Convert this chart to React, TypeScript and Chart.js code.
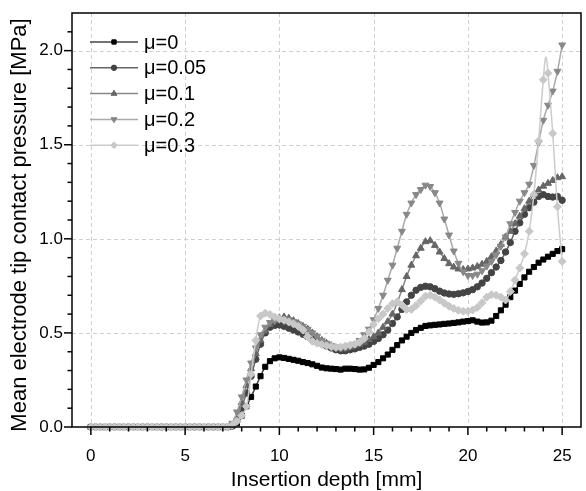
import { useEffect, useRef } from "react";
import { Chart, registerables } from "chart.js";

Chart.register(...registerables);

// Insertion depth [mm]
const depth = [
  0, 0.25, 0.5, 0.75, 1, 1.25, 1.5, 1.75, 2, 2.25,
  2.5, 2.75, 3, 3.25, 3.5, 3.75, 4, 4.25, 4.5, 4.75,
  5, 5.25, 5.5, 5.75, 6, 6.25, 6.5, 6.75, 7, 7.25,
  7.5, 7.75, 8, 8.25, 8.5, 8.75, 9, 9.25, 9.5, 9.75,
  10, 10.25, 10.5, 10.75, 11, 11.25, 11.5, 11.75, 12, 12.25,
  12.5, 12.75, 13, 13.25, 13.5, 13.75, 14, 14.25, 14.5, 14.75,
  15, 15.25, 15.5, 15.75, 16, 16.25, 16.5, 16.75, 17, 17.25,
  17.5, 17.75, 18, 18.25, 18.5, 18.75, 19, 19.25, 19.5, 19.75,
  20, 20.25, 20.5, 20.75, 21, 21.25, 21.5, 21.75, 22, 22.25,
  22.5, 22.75, 23, 23.25, 23.5, 23.75, 24, 24.25, 24.5, 24.75,
  25,
];

const zeros30 = [
  0, 0, 0, 0, 0, 0, 0, 0, 0, 0,
  0, 0, 0, 0, 0, 0, 0, 0, 0, 0,
  0, 0, 0, 0, 0, 0, 0, 0, 0, 0,
];

const mu0 = [
  ...zeros30,
  0.005, 0.02, 0.06, 0.11, 0.16, 0.215, 0.27, 0.32, 0.35, 0.365,
  0.37, 0.367, 0.362, 0.357, 0.352, 0.345, 0.34, 0.333, 0.325, 0.316,
  0.312, 0.31, 0.308, 0.305, 0.31, 0.31, 0.308, 0.305, 0.306, 0.315,
  0.33, 0.345, 0.365, 0.385, 0.41, 0.435, 0.46, 0.48, 0.5, 0.515,
  0.527, 0.537, 0.54, 0.543, 0.545, 0.548, 0.55, 0.553, 0.556, 0.56,
  0.563, 0.567, 0.56, 0.555, 0.556, 0.565, 0.59, 0.62, 0.65, 0.69,
  0.725, 0.76, 0.795, 0.825, 0.85, 0.873, 0.89, 0.905, 0.92, 0.935,
  0.945,
];

const mu005 = [
  ...zeros30,
  0.005, 0.03, 0.1, 0.18, 0.27, 0.36, 0.44, 0.5, 0.53, 0.54,
  0.542, 0.535, 0.525, 0.515, 0.505, 0.493, 0.48, 0.467, 0.455, 0.443,
  0.43, 0.42, 0.41, 0.405, 0.405, 0.41, 0.415, 0.423, 0.43, 0.44,
  0.455, 0.47, 0.49, 0.515, 0.55, 0.585, 0.625, 0.665, 0.7, 0.727,
  0.742, 0.748, 0.745, 0.735, 0.722, 0.712, 0.707, 0.705, 0.708, 0.713,
  0.72, 0.73, 0.745, 0.765, 0.79, 0.82, 0.85, 0.885, 0.93, 0.98,
  1.04, 1.085, 1.13, 1.165, 1.195, 1.225, 1.235, 1.225, 1.222, 1.225,
  1.205,
];

const mu01 = [
  ...zeros30,
  0.01, 0.05, 0.13, 0.22, 0.31, 0.39, 0.46, 0.51, 0.545, 0.565,
  0.58, 0.585, 0.578, 0.565, 0.55, 0.535, 0.52, 0.5, 0.48, 0.46,
  0.445, 0.432, 0.42, 0.415, 0.418, 0.425, 0.432, 0.44, 0.45, 0.465,
  0.48, 0.5, 0.53, 0.56, 0.6, 0.66, 0.73, 0.8, 0.86, 0.91,
  0.95, 0.985, 0.99, 0.965, 0.93, 0.895, 0.868, 0.85, 0.84, 0.837,
  0.84, 0.845, 0.853, 0.865, 0.88, 0.905, 0.935, 0.97, 1.01, 1.04,
  1.08, 1.12, 1.16, 1.2, 1.235, 1.26, 1.28, 1.295, 1.31, 1.325,
  1.33,
];

const mu02 = [
  ...zeros30,
  0.02, 0.08, 0.16, 0.25, 0.34, 0.42, 0.49, 0.53, 0.555, 0.565,
  0.572, 0.575, 0.57, 0.56, 0.548, 0.535, 0.52, 0.5, 0.48, 0.46,
  0.445, 0.432, 0.425, 0.42, 0.423, 0.43, 0.44, 0.46, 0.49, 0.52,
  0.57, 0.63, 0.7, 0.78, 0.86, 0.95, 1.04, 1.13, 1.19, 1.235,
  1.262, 1.285, 1.278, 1.245, 1.19, 1.105, 1.02, 0.935, 0.87, 0.825,
  0.805, 0.805, 0.812, 0.83, 0.855, 0.88, 0.915, 0.96, 1.01, 1.08,
  1.14, 1.2, 1.245, 1.29, 1.39, 1.51, 1.63, 1.71, 1.785, 1.89,
  2.03,
];

const mu03 = [
  ...zeros30,
  0.01, 0.03, 0.06, 0.11, 0.28, 0.46, 0.59, 0.605, 0.598, 0.585,
  0.575, 0.567, 0.558, 0.548, 0.535, 0.515, 0.48, 0.455, 0.445, 0.438,
  0.432, 0.427, 0.423, 0.425, 0.43, 0.435, 0.44, 0.45, 0.47, 0.505,
  0.545, 0.575, 0.6, 0.63, 0.655, 0.665, 0.648, 0.625, 0.625, 0.645,
  0.67, 0.695, 0.7, 0.69, 0.675, 0.658, 0.642, 0.63, 0.62, 0.615,
  0.615, 0.622, 0.635, 0.66, 0.69, 0.703, 0.7, 0.69, 0.675, 0.72,
  0.78, 0.845, 0.92, 1.04, 1.235, 1.52, 1.845, 1.88, 1.56, 1.17,
  0.88,
];

// unmarked line-only point of the μ=0.3 curve (crest between markers)
const mu03CrestDepth = [24.13];
const mu03CrestValue = [1.965];

const seriesLabels = ["μ=0", "μ=0.05", "μ=0.1", "μ=0.2", "μ=0.3"];
const seriesValues = [mu0, mu005, mu01, mu02, mu03];
const markerColors = ["#000000", "#444444", "#666666", "#888888", "#c8c8c8"];
const lineColors = ["#444444", "#666666", "#888888", "#aaaaaa", "#cccccc"];
const markerStyles = ["rect", "circle", "triangle", "triangle", "rectRot"];
const markerRotations = [0, 0, 0, 180, 0];
const markerRadii = [3.6, 3.2, 4, 4, 4];

const xMajorTicks = [0, 5, 10, 15, 20, 25];
const yMajorTicks = [0, 0.5, 1.0, 1.5, 2.0];
const xTitle = "Insertion depth [mm]";
const yTitle = "Mean electrode tip contact pressure [MPa]";

const FONT = "'Liberation Sans', Arial, sans-serif";

function drawMarker(ctx: CanvasRenderingContext2D, style: string, r: number, rot: number, x: number, y: number) {
  ctx.save();
  ctx.translate(x, y);
  ctx.rotate((rot * Math.PI) / 180);
  ctx.beginPath();
  if (style === "rect") {
    const s = r * Math.SQRT1_2;
    ctx.rect(-s, -s, 2 * s, 2 * s);
  } else if (style === "circle") {
    ctx.arc(0, 0, r, 0, Math.PI * 2);
  } else if (style === "triangle") {
    ctx.moveTo(0, -r);
    ctx.lineTo(r * Math.sin((Math.PI * 2) / 3), -r * Math.cos((Math.PI * 2) / 3));
    ctx.lineTo(-r * Math.sin((Math.PI * 2) / 3), -r * Math.cos((Math.PI * 2) / 3));
    ctx.closePath();
  } else {
    ctx.moveTo(0, -r);
    ctx.lineTo(r, 0);
    ctx.lineTo(0, r);
    ctx.lineTo(-r, 0);
    ctx.closePath();
  }
  ctx.fill();
  ctx.stroke();
  ctx.restore();
}

const decorPlugin = {
  id: "decor",
  beforeDatasetsDraw(chart: any) {
    const { ctx, chartArea } = chart;
    const xs = chart.scales.x;
    const ys = chart.scales.y;
    ctx.save();
    ctx.strokeStyle = "#d0d0d0";
    ctx.lineWidth = 1;
    ctx.setLineDash([4, 3]);
    xMajorTicks.forEach((v) => {
      const px = Math.round(xs.getPixelForValue(v)) + 0.5;
      ctx.beginPath();
      ctx.moveTo(px, chartArea.top);
      ctx.lineTo(px, chartArea.bottom);
      ctx.stroke();
    });
    yMajorTicks.forEach((v) => {
      if (v === 0) return;
      const py = Math.round(ys.getPixelForValue(v)) + 0.5;
      ctx.beginPath();
      ctx.moveTo(chartArea.left, py);
      ctx.lineTo(chartArea.right, py);
      ctx.stroke();
    });
    ctx.restore();
  },
  afterDatasetsDraw(chart: any) {
    const { ctx } = chart;
    ctx.save();
    const x0 = 90;
    const x1 = 138;
    const y0 = 42;
    const dy = 25.8;
    seriesLabels.forEach((lab, i) => {
      const y = y0 + i * dy;
      ctx.strokeStyle = lineColors[i];
      ctx.lineWidth = 1.5;
      ctx.setLineDash([]);
      ctx.beginPath();
      ctx.moveTo(x0, y);
      ctx.lineTo(x1, y);
      ctx.stroke();
      ctx.fillStyle = markerColors[i];
      ctx.strokeStyle = markerColors[i];
      ctx.lineWidth = 1;
      drawMarker(ctx, markerStyles[i], markerRadii[i] * 0.85, markerRotations[i], (x0 + x1) / 2, y);
      ctx.fillStyle = "#000";
      ctx.font = `20px ${FONT}`;
      ctx.textAlign = "left";
      ctx.textBaseline = "middle";
      ctx.fillText(lab, 144, y + 1);
    });
    ctx.restore();
  },
  afterDraw(chart: any) {
    const { ctx, chartArea } = chart;
    const xs = chart.scales.x;
    const ys = chart.scales.y;
    ctx.save();
    ctx.strokeStyle = "#000";
    ctx.lineWidth = 1.5;
    ctx.setLineDash([]);
    ctx.strokeRect(chartArea.left, chartArea.top, chartArea.right - chartArea.left, chartArea.bottom - chartArea.top);
    for (let v = 0; v <= 25; v++) {
      const px = xs.getPixelForValue(v);
      const len = v % 5 === 0 ? 8 : 4.5;
      ctx.beginPath();
      ctx.moveTo(px, chartArea.bottom);
      ctx.lineTo(px, chartArea.bottom + len);
      ctx.stroke();
    }
    for (let k = 0; k <= 21; k++) {
      const py = ys.getPixelForValue(k / 10);
      const len = k % 5 === 0 ? 8 : 4.5;
      ctx.beginPath();
      ctx.moveTo(chartArea.left, py);
      ctx.lineTo(chartArea.left - len, py);
      ctx.stroke();
    }
    ctx.fillStyle = "#000";
    ctx.textAlign = "center";
    ctx.textBaseline = "middle";
    ctx.font = `21px ${FONT}`;
    ctx.fillText(xTitle, (chartArea.left + chartArea.right) / 2, 480);
    ctx.font = `22px ${FONT}`;
    ctx.translate(20, 225);
    ctx.rotate(-Math.PI / 2);
    ctx.fillText(yTitle, 0, 0);
    ctx.restore();
  },
};

export default function App() {
  const ref = useRef<HTMLCanvasElement | null>(null);
  useEffect(() => {
    document.body.style.margin = "0";
    const canvas = ref.current;
    if (!canvas) return;
    const datasets = seriesValues.map((vals, i) => {
      let pts = vals.map((v, j) => ({ x: depth[j], y: v, m: 1 }));
      if (i === 4) {
        mu03CrestDepth.forEach((d, k) => pts.push({ x: d, y: mu03CrestValue[k], m: 0 }));
        pts = pts.sort((a, b) => a.x - b.x);
      }
      const radii = pts.map((p) => (p.m ? markerRadii[i] : 0));
      return {
        label: seriesLabels[i],
        data: pts.map((p) => ({ x: p.x, y: p.y })),
        order: seriesValues.length - 1 - i,
        borderColor: lineColors[i],
        backgroundColor: markerColors[i],
        borderWidth: 1.5,
        pointStyle: markerStyles[i] as any,
        pointRotation: markerRotations[i],
        pointRadius: radii,
        pointBackgroundColor: markerColors[i],
        pointBorderColor: markerColors[i],
        pointBorderWidth: 1,
        tension: 0.4,
        clip: false as any,
      };
    });
    const chart = new Chart(canvas, {
      type: "line",
      data: { datasets },
      plugins: [decorPlugin],
      options: {
        animation: false,
        responsive: false,
        devicePixelRatio: 1,
        layout: { padding: { top: 13, right: 1, left: 0, bottom: 0 } },
        plugins: { legend: { display: false }, tooltip: { enabled: false } },
        scales: {
          x: {
            type: "linear",
            min: -1,
            max: 26,
            afterBuildTicks: (s: any) => {
              s.ticks = xMajorTicks.map((v) => ({ value: v }));
            },
            afterFit: (s: any) => {
              s.height = 64;
              s.paddingLeft = 0;
              s.paddingRight = 0;
            },
            grid: { display: false, drawTicks: false },
            border: { display: false },
            ticks: {
              padding: 19,
              color: "#000",
              font: { family: FONT, size: 17 },
              maxRotation: 0,
              autoSkip: false,
            },
          },
          y: {
            type: "linear",
            min: 0,
            max: 2.2,
            afterBuildTicks: (s: any) => {
              s.ticks = yMajorTicks.map((v) => ({ value: v }));
            },
            afterFit: (s: any) => {
              s.width = 72;
              s.paddingTop = 0;
              s.paddingBottom = 0;
            },
            grid: { display: false, drawTicks: false },
            border: { display: false },
            ticks: {
              padding: 9,
              color: "#000",
              font: { family: FONT, size: 17 },
              callback: (v: any) => Number(v).toFixed(1),
              autoSkip: false,
            },
          },
        },
      },
    });
    return () => chart.destroy();
  }, []);
  return (
    <div style={{ width: 586, height: 491 }}>
      <canvas ref={ref} width={586} height={491} style={{ width: 586, height: 491, display: "block" }} />
    </div>
  );
}
